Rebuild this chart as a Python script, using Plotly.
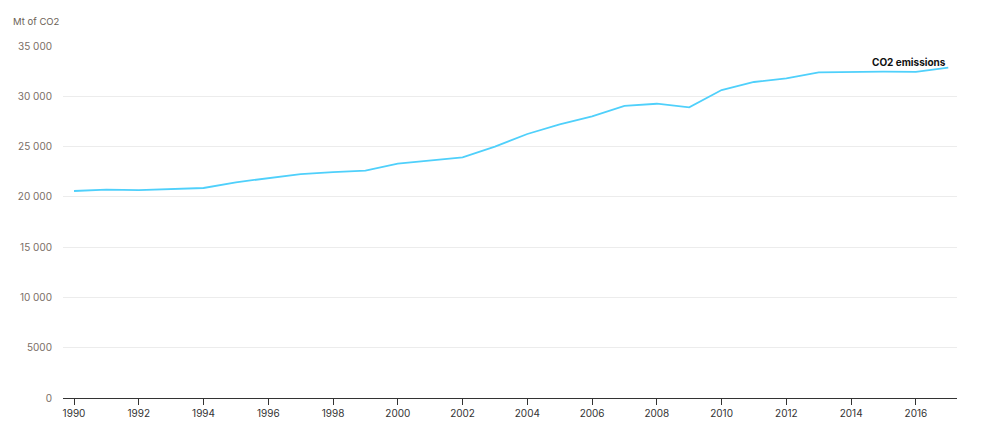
import plotly.graph_objects as go

years = list(range(1990, 2018))
co2_mt = [20580, 20720, 20670, 20780, 20880, 21450, 21880, 22270, 22450, 22600,
          23300, 23620, 23930, 24990, 26250, 27200, 28000, 29040, 29260, 28900,
          30620, 31420, 31780, 32380, 32450, 32450, 32420, 32840]
series_name = "CO2 emissions"
y_ticks = [0, 5000, 10000, 15000, 20000, 25000, 30000, 35000]
y_tick_labels = ["0", "5000", "10 000", "15 000", "20 000", "25 000", "30 000", "35 000"]
x_ticks = list(range(1990, 2017, 2))

fig = go.Figure()
fig.add_trace(go.Scatter(x=years, y=co2_mt, mode="lines",
                         line=dict(color="#4fd0fb", width=1.8),
                         name=series_name, hoverinfo="x+y"))

fig.add_annotation(x=years[-1], y=co2_mt[-1], text="<b>" + series_name + "</b>",
                   showarrow=False, xanchor="right", yanchor="bottom",
                   xshift=0, yshift=-2,
                   font=dict(family="Inter, sans-serif", size=10, color="#111"))

fig.add_annotation(x=0, y=1, xref="paper", yref="paper", text="Mt of CO2",
                   showarrow=False, xanchor="left", yanchor="bottom",
                   xshift=-52, yshift=17,
                   font=dict(family="Inter, sans-serif", size=9.5, color="#6b5f55"))

fig.update_layout(
    width=980, height=418,
    margin=dict(l=55, r=31, t=38, b=28),
    paper_bgcolor="white", plot_bgcolor="white",
    showlegend=False,
    font=dict(family="Inter, sans-serif", size=10, color="#333"),
    xaxis=dict(range=[1989.66, 2017.27], tickvals=x_ticks,
               ticktext=[str(v) for v in x_ticks],
               showgrid=False, zeroline=False, automargin=False,
               showline=True, linecolor="#333", linewidth=1,
               ticks="outside", ticklen=6, tickcolor="#333", tickwidth=1,
               tickfont=dict(size=10, color="#333")),
    yaxis=dict(range=[0, 35000], tickvals=y_ticks, ticktext=y_tick_labels,
               showgrid=True, gridcolor="#ececec", gridwidth=1,
               zeroline=False, ticks="", ticklabelstandoff=10, automargin=False,
               tickfont=dict(size=10, color="#7a6e66")),
)

fig.write_html("out.html")
